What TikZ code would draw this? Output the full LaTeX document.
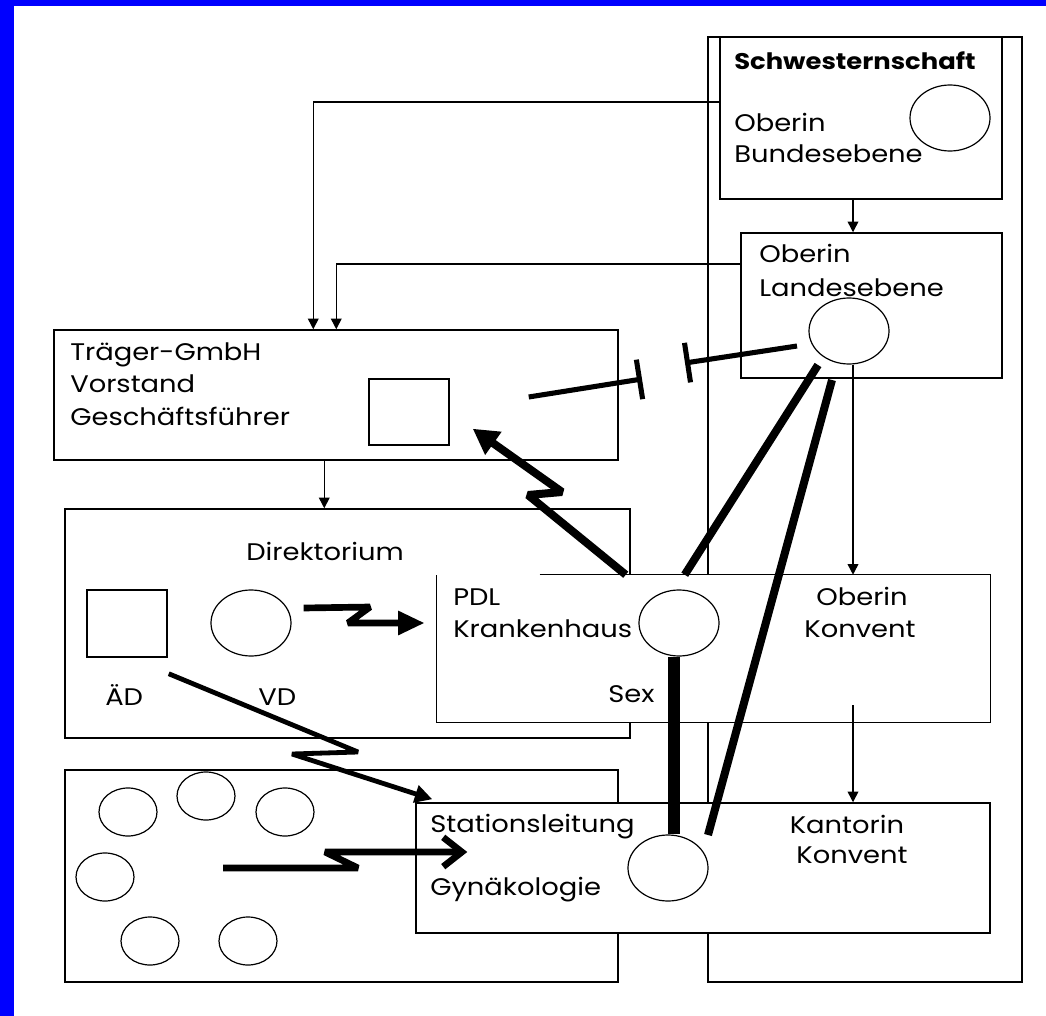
\documentclass[tikz,border=0pt]{standalone}
\usepackage{fontspec}
\setmainfont[FakeStretch=1.14]{Poppins}
\usetikzlibrary{arrows.meta,shapes.geometric,fit,calc}
\begin{document}
\begin{tikzpicture}[x=0.75pt,y=-0.75pt,
  box/.style={draw, line width=1.1pt, fill=white, inner sep=0pt},
  oval/.style={draw, ellipse, line width=0.9pt, fill=white, inner sep=0pt, minimum width=60pt, minimum height=49.5pt},
  small/.style={oval, minimum width=43.5pt, minimum height=36pt},
  lbl/.style={anchor=base west, inner sep=0pt, font=\fontsize{18}{21}\selectfont},
  clbl/.style={lbl, anchor=base},
  thinarrow/.style={line width=1.1pt, -{Triangle[length=8pt,width=8pt]}},
  heavy/.style={line width=6pt},
  zig/.style={line join=bevel}
]
\fill[white] (0,0) rectangle (1046,1016);
\useasboundingbox (0,0) rectangle (1046,1016);
\fill[blue] (0,0) rectangle (1046,6);
\fill[blue] (0,0) rectangle (14,1016);

% boxes
\node[box, fit={(708,37) (1022,982)}] (col) {};
\node[box, fit={(720,37) (1002,199)}] (schw) {};
\node[box, fit={(741,233) (1002,378)}] (lande) {};
\node[box, fit={(54,330) (618,460)}] (traeger) {};
\node[box, fit={(65,509) (630,738)}] (dir) {};
\node[box, fit={(65,770) (618,982)}] (lower) {};
\node[fill=white, inner sep=0pt, fit={(437,575) (990,722)}] (kh) {};
\draw[line width=1.1pt] ($(kh.north west)+(103,0)$) -- (kh.north east) -- (kh.south east) -- (kh.south west) -- (kh.north west);
\node[box, fit={(416,803) (990,933)}] (stat) {};

% inner shapes
\node[box, fit={(369,379) (449,445)}] (tsq) {};
\node[box, fit={(87,590) (167,657)}] (aedsq) {};
\node[oval] (scirc0) at (950,118) {};
\node[oval] (lcirc) at (849,331) {};
\node[oval] (vd) at (251,623) {};
\node[oval] (pcirc) at (679,623) {};
\node[oval] (scirc) at (668,868) {};
\node[small] (c1) at (128,812) {};
\node[small] (c2) at (206,796) {};
\node[small] (c3) at (285,812) {};
\node[small] (c4) at (105,877) {};
\node[small] (c5) at (150,941) {};
\node[small] (c6) at (248,941) {};

% texts
\node[lbl, font=\fontsize{17}{20}\selectfont\bfseries] (t1) at (734,70) {Schwesternschaft};
\node[lbl] (t2) at (734,132) {Oberin};
\node[lbl] (t3) at (734,163) {Bundesebene};
\node[lbl] (t4) at (759,263) {Oberin};
\node[lbl] (t5) at (759,297) {Landesebene};
\node[lbl] (t6) at (70,360) {Träger-GmbH};
\node[lbl] (t7) at (70,392) {Vorstand};
\node[lbl] (t8) at (70,425) {Geschäftsführer};
\node[lbl] (t9) at (246,560) {Direktorium};
\node[lbl] (t10) at (105,705) {ÄD};
\node[lbl] (t11) at (258,705) {VD};
\node[lbl] (t12) at (453,605) {PDL};
\node[lbl] (t13) at (453,637) {Krankenhaus};
\node[clbl] (t14) at (862,605) {Oberin};
\node[clbl] (t15) at (860,637) {Konvent};
\node[lbl] (t16) at (608,702) {Sex};
\node[lbl] (t17) at (430,832) {Stationsleitung};
\node[lbl] (t18) at (430,895) {Gynäkologie};
\node[clbl] (t19) at (847,833) {Kantorin};
\node[clbl] (t20) at (852,863) {Konvent};

% thin connectors
\draw[thinarrow] ($(schw.west)+(0,-16)$) -| ($(traeger.north west)+(260,0)$);
\draw[thinarrow] ($(lande.west)+(0,-41.5)$) -| ($(traeger.north west)+(283,0)$);
\coordinate (s1) at ($(schw.south)+(-8,0)$);
\draw[thinarrow] (s1) -- (s1 |- lande.north);
\coordinate (l1) at ($(lcirc.south)+(4,0)$);
\draw[thinarrow] (l1) -- (l1 |- kh.north);
\coordinate (k1) at (853,705);
\draw[thinarrow] (k1) -- (k1 |- stat.north);
\coordinate (tr1) at ($(traeger.south west)+(271,0)$);
\draw[thinarrow] (tr1) -- (tr1 |- dir.north);

% blocked connector
\coordinate (blkA) at (685,363);
\coordinate (blkB) at (642,379);
\coordinate (blkEnd) at ($(tsq.east)+(79,-15)$);
\draw[line width=3.8pt, -{Bar[width=30pt]}] ($(lcirc.center)+(-52,15)$) -- (blkA);
\draw[line width=3.8pt, {Bar[width=30pt]}-] (blkB) -- (blkEnd);

% zigzag arrows
\coordinate (z1) at ($(kh.north west)+(189,0)$);
\draw[heavy, zig, -{Triangle[length=19pt,width=20pt]}] (z1) -- (528,495) -- (562,492) -- ($(tsq.south east)+(23,-17)$);
\draw[line width=5pt, zig, -{Triangle[length=20pt,width=17pt]}] ($(vd.east)+(12,-15)$) -- (370,607) -- (348,623) -- ($(kh.west |- vd.center)+(-12,0)$);
\draw[line width=3.6pt, zig, -{Triangle[length=13pt,width=13pt]}] ($(aedsq.south east)+(1,16)$) -- (358,752) -- (292,754) -- ($(stat.north west)+(17,-3)$);
\draw[line width=5pt, zig, -{Straight Barb[length=14pt,width=22pt]}] (223,868) -- (358,868) -- (325,852) -- ($(stat.west |- 0,852)+(52,0)$);

% thick lines
\draw[heavy] ($(lcirc.center)+(-31,34)$) -- ($(kh.north west)+(248,0)$);
\draw[heavy] ($(lcirc.center)+(-17,49)$) -- ($(scirc.center)+(40,-33)$);
\draw[line width=9pt] ($(pcirc.south)+(-5,0)$) -- ($(scirc.north)+(6,0)$);
\end{tikzpicture}
\end{document}
